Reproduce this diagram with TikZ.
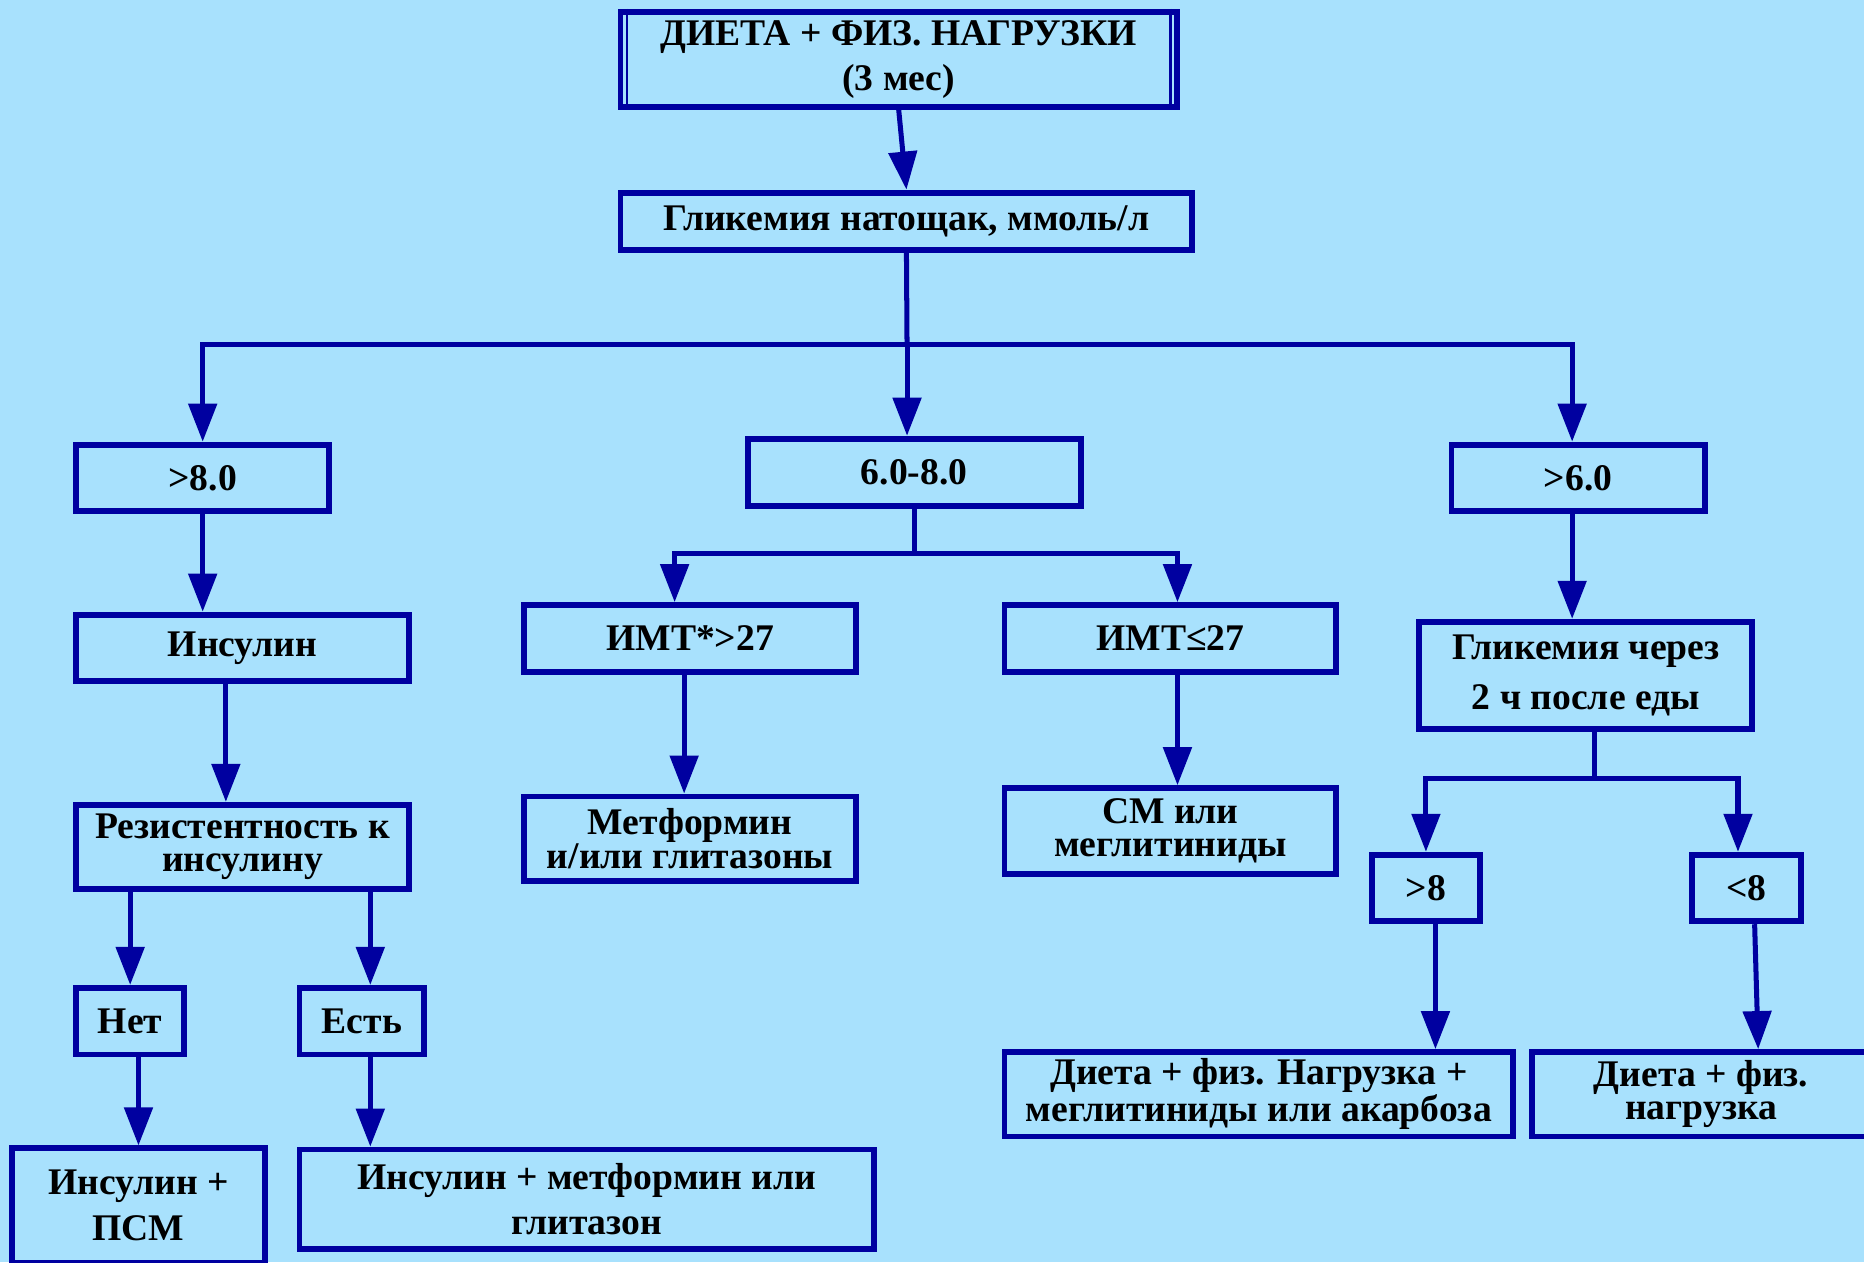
\documentclass[tikz,border=0pt]{standalone}
\usepackage{fontspec}
\setmainfont{Liberation Serif}[BoldFont={Liberation Serif Bold}]
\newfontfamily\boxfont{Liberation Serif Bold}
\usetikzlibrary{arrows.meta,calc}
\definecolor{bgblue}{RGB}{168,225,253}
\definecolor{lineblue}{RGB}{0,0,160}
\begin{document}
\begin{tikzpicture}[x=0.025cm, y=-0.025cm, line join=miter,
		>={Triangle[width=0.59cm,length=0.8cm]},
		box/.style={draw=lineblue, line width=3.5pt, align=center, inner sep=0pt, font=\boxfont\fontsize{22.5}{27}\selectfont},
		tight/.style={font=\boxfont\fontsize{22.5}{20}\selectfont},
		loose/.style={font=\boxfont\fontsize{22.5}{30}\selectfont},
		sz/.style 2 args={minimum width=#1*0.025cm, minimum height=#2*0.025cm},
		conn/.style={draw=lineblue, line width=3pt},
		arr/.style={conn, ->}]
		\fill[bgblue] (0,0) rectangle (1568,1062);
		\useasboundingbox (0,0) rectangle (1568,1062);
		\node[box, sz={468}{80}] (diet0) at (756,50) {ДИЕТА + ФИЗ. НАГРУЗКИ\\(3 мес)};
		\draw[lineblue, line width=1.6pt] ($(diet0.north west)+(8,0)$) -- ($(diet0.south west)+(8,0)$);
		\draw[lineblue, line width=1.6pt] ($(diet0.north east)+(-8,0)$) -- ($(diet0.south east)+(-8,0)$);
		\node[box, sz={481}{48}] (fast) at (762.5,186) {Гликемия натощак, ммоль/л};
		\node[box, sz={213}{56}] (hi) at (170.5,402) {>8.0};
		\node[box, sz={280}{57}] (mid) at (769,397.5) {6.0-8.0};
		\node[box, sz={213}{56}] (lo) at (1327.5,402) {>6.0};
		\node[box, sz={280}{56}] (ins) at (204,545) {Инсулин};
		\node[box, sz={279}{56}] (bmihi) at (580.5,537) {ИМТ*>27};
		\node[box, sz={279}{56}] (bmilo) at (984.5,537) {ИМТ≤27};
		\node[box, loose, sz={280}{90}] (post) at (1334,568) {Гликемия через\\2 ч после еды};
		\node[box, tight, sz={280}{71}] (resist) at (204,712.5) {Резистентность к\\инсулину};
		\node[box, tight, sz={279}{71}] (metf) at (580.5,705.5) {Метформин\\и/или глитазоны};
		\node[box, tight, sz={279}{72}] (sulf) at (984.5,699) {СМ или\\меглитиниды};
		\node[box, sz={91}{56}] (pphi) at (1199.5,747) {>8};
		\node[box, sz={92}{56}] (pplo) at (1469,747) {<8};
		\node[box, sz={91}{56}] (no) at (109.5,859) {Нет};
		\node[box, sz={105}{56}] (yes) at (304.5,859) {Есть};
		\node[box, sz={213}{96}] (inspsm) at (116.5,1014) {Инсулин +\\ПСМ};
		\node[box, sz={483}{84}] (insmet) at (493.5,1009) {Инсулин + метформин или\\глитазон};
		\node[box, tight, sz={428}{71}] (dietmeg) at (1059,920.5) {Диета + физ. Нагрузка +\\меглитиниды или акарбоза};
		\node[box, tight, sz={284}{71}] (dietonly) at (1431,920.5) {Диета + физ.\\нагрузка};
		\coordinate (split) at (763,290);
		\coordinate (split2) at (769,466);
		\coordinate (split3) at (1341,655);
		\draw[arr] (diet0.south) -- (fast.north);
		\draw[conn] (fast.south) -- (split);
		\draw[arr] (split) -- (split |- mid.north);
		\draw[arr] (split) -| (hi.north);
		\draw[arr] (split) -| ($(lo.north)+(-5,0)$);
		\draw[arr] (hi.south) -- (hi.south |- ins.north);
		\draw[arr] ($(ins.south)+(-14,0)$) -- ($(resist.north)+(-14,0)$);
		\draw[arr] (no.north |- resist.south) -- (no.north);
		\draw[arr] ($(yes.north |- resist.south)+(7,0)$) -- ($(yes.north)+(7,0)$);
		\draw[arr] (inspsm.north |- no.south) -- (inspsm.north);
		\draw[arr] ($(yes.south)+(7,0)$) -- ($(yes.south |- insmet.north)+(7,0)$);
		\draw[conn] (mid.south) -- (split2);
		\draw[arr] (split2) -| ($(bmihi.north)+(-13,0)$);
		\draw[arr] (split2) -| ($(bmilo.north)+(6,0)$);
		\draw[arr] ($(bmihi.south)+(-5,0)$) -- ($(metf.north)+(-5,0)$);
		\draw[arr] ($(bmilo.south)+(6,0)$) -- ($(sulf.north)+(6,0)$);
		\draw[arr] ($(lo.south)+(-5,0)$) -- ($(lo.south |- post.north)+(-5,0)$);
		\draw[conn] ($(post.south)+(7,0)$) -- (split3);
		\draw[arr] (split3) -| (pphi.north);
		\draw[arr] (split3) -| ($(pplo.north)+(-7,0)$);
		\draw[arr] ($(pphi.south)+(8,0)$) -- ($(pphi.south |- dietmeg.north)+(8,0)$);
		\draw[arr] ($(pplo.south)+(7,0)$) -- ($(pplo.south |- dietonly.north)+(10,0)$);
\end{tikzpicture}
\end{document}
